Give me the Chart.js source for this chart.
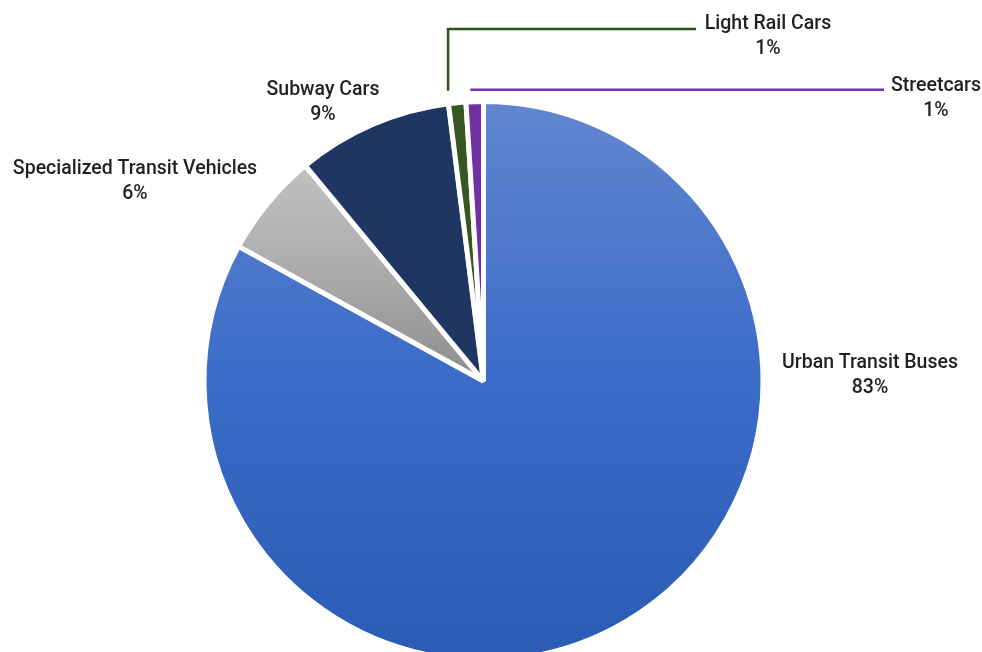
<!DOCTYPE html>
<html>
<head>
<meta charset="utf-8">
<script src="https://cdn.jsdelivr.net/npm/chart.js@4"></script>
<style>
  html, body { margin: 0; padding: 0; background: #fff; }
  #wrap { width: 982px; height: 652px; overflow: hidden; position: relative; }
  canvas { display: block; }
</style>
</head>
<body>
<div id="wrap"><canvas id="chart" width="982" height="700"></canvas></div>
<script>
const categories = ["Urban Transit Buses", "Specialized Transit Vehicles", "Subway Cars", "Light Rail Cars", "Streetcars"];
const shares = [83, 6, 9, 1, 1];

const navy = "#1f3663";
const green = "#375623";
const purple = "#7030a0";

// where each label sits (center of the first line) and how it is linked to its slice
const labelSpots = [
    { x: 870, y: 363, leader: null },
    { x: 135, y: 169, leader: null },
    { x: 323, y: 90, leader: null },
    { x: 768, y: 24, leader: "elbow", color: "#2d5220" },
    { x: 936, y: 86, leader: "flat", color: "#7134a0" }
];

function verticalGradient(chart, stops) {
    const area = chart.chartArea;
    if (!area) return stops[0][1];
    const meta = chart.getDatasetMeta(0);
    const arc = meta.data[0];
    const cy = (area.top + area.bottom) / 2;
    const r = arc && arc.outerRadius ? arc.outerRadius : 276;
    const g = chart.ctx.createLinearGradient(0, cy - r, 0, cy + r);
    stops.forEach(s => g.addColorStop(s[0], s[1]));
    return g;
}

const sliceFill = function(context) {
    const chart = context.chart;
    switch (context.dataIndex) {
        case 0:
            return verticalGradient(chart, [[0, "#6285cf"], [0.5, "#3a6cc8"], [1, "#2b5cb4"]]);
        case 1:
            return verticalGradient(chart, [[0, "#cbcbcb"], [0.25, "#b3b3b3"], [0.5, "#8d8d8d"], [1, "#707070"]]);
        case 2:
            return navy;
        case 3:
            return green;
        default:
            return purple;
    }
};

const sliceLabels = {
    id: "sliceLabels",
    afterDatasetsDraw(chart) {
        const c = chart.ctx;
        const meta = chart.getDatasetMeta(0);
        c.save();
        meta.data.forEach((arc, i) => {
            const spot = labelSpots[i];
            const props = arc.getProps(["x", "y", "startAngle", "endAngle", "outerRadius"], true);
            const mid = (props.startAngle + props.endAngle) / 2;

            if (spot.leader) {
                const reach = props.outerRadius + 12;
                const px = props.x + Math.cos(mid) * reach;
                const py = props.y + Math.sin(mid) * reach;
                c.strokeStyle = spot.color;
                c.lineWidth = 2.5;
                c.beginPath();
                if (spot.leader === "elbow") {
                    const ex = px - 8;
                    c.moveTo(ex, py);
                    c.lineTo(ex, spot.y + 5);
                    c.lineTo(spot.x - 72, spot.y + 5);
                } else {
                    c.moveTo(px - 4, py);
                    c.lineTo(spot.x - 52, py);
                }
                c.stroke();
            }

            c.fillStyle = "#231f20";
            c.font = "500 19.5px Roboto";
            c.textAlign = "center";
            c.textBaseline = "middle";
            c.fillText(categories[i], spot.x, spot.y);
            c.fillText(shares[i] + "%", spot.x, spot.y + 25);
        });
        c.restore();
    }
};

new Chart(document.getElementById("chart"), {
    type: "pie",
    data: {
        labels: categories,
        datasets: [{
            data: shares,
            backgroundColor: sliceFill,
            borderColor: "#ffffff",
            borderWidth: 5,
            radius: 279.5
        }]
    },
    options: {
        responsive: false,
        animation: false,
        layout: { padding: { top: 104, bottom: 42, left: 201, right: 216 } },
        plugins: {
            legend: { display: false },
            tooltip: { enabled: false }
        }
    },
    plugins: [sliceLabels]
});
</script>
</body>
</html>
